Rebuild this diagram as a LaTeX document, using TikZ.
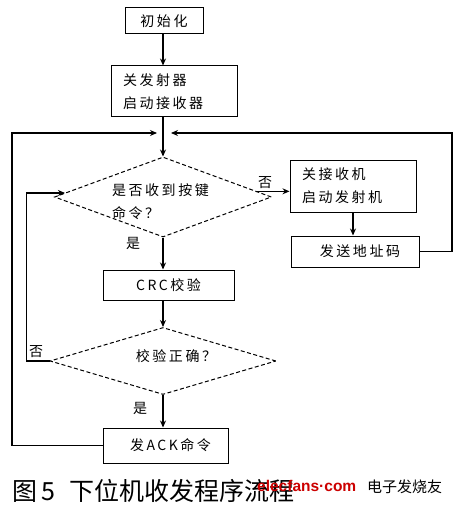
\documentclass[tikz,border=0pt]{standalone}
\usepackage{fontspec}
\setmainfont{Noto Sans CJK SC}[LetterSpace=18]
\newfontfamily\capfont{Noto Sans CJK SC}
\newfontfamily\wmfont{Liberation Sans}
\usetikzlibrary{shapes.geometric,arrows.meta,calc}
\tikzset{
  box/.style={draw,line width=1pt,rectangle,inner sep=0pt,font=\fontsize{14}{23}\selectfont},
  tbox/.style={box,align=left,inner xsep=12pt},
  dia/.style={draw,line width=1pt,diamond,dash pattern=on 4pt off 2.5pt,inner sep=0pt},
  txt/.style={inner sep=0pt,font=\fontsize{14}{23}\selectfont},
  conn/.style={line width=1.2pt},
  arr/.style={conn,-{Stealth[length=7pt,width=6pt]}}
}
\begin{document}
\begin{tikzpicture}[x=1pt,y=-1pt]
\useasboundingbox[fill=white] (0,0) rectangle (458,508);
% nodes
\node[box,minimum width=78pt,minimum height=26pt] (init) at (164,21) {初始化};
\node[tbox,text width=102pt,minimum height=51pt] (b1) at (174,91.5) {关发射器\\启动接收器};
\coordinate (jl) at (157,133);
\coordinate (jr) at (171,133);
\coordinate (lx) at (12,133);
\coordinate (rx) at (452,133);
\node[dia,minimum width=217pt,minimum height=80pt] (d1) at (163,197) {};
\node[txt,anchor=west,align=left] (d1t) at (112,201.5) {是否收到按键\\命令？};
\node[tbox,text width=102pt,minimum height=52pt] (b2) at (353,186) {关接收机\\启动发射机};
\node[box,minimum width=128pt,minimum height=31pt] (b3) at (355,251.5) {\hspace{10pt}发送地址码};
\node[box,minimum width=131pt,minimum height=30pt] (crc) at (168.5,285) {CRC校验\hspace{12pt}};
\node[dia,minimum width=226pt,minimum height=67pt] (d2) at (163,361) {};
\node[txt] (d2t) at (176,356) {校验正确？};
\node[box,minimum width=125pt,minimum height=35pt] (ack) at (165.5,445.5) {\hspace{10pt}发ACK命令};
% labels
\node[txt] (no1l) at (265,183) {否};
\node[txt] (yes1l) at (133,243) {是};
\node[txt] (no2l) at (36,352) {否};
\node[txt] (yes2l) at (140,408) {是};
% connectors
\draw[arr] (d1.north |- init.south) -- (d1.north |- b1.north);
\draw[arr] (d1.north |- b1.south) -- (d1.north);
\draw[arr] (ack.west) -| (lx) -- (jl);
\draw[arr] (b3.east) -| (rx) -- (jr);
\draw[arr] ($(d1.east)!0.14!(d1.north)$) coordinate (no1) -- (no1 -| b2.west);
\draw[arr] (b2.south) -- (b2.south |- b3.north);
\draw[arr] (d1.south) -- (d1.south |- crc.north);
\draw[arr] (d2.north |- crc.south) -- (d2.north);
\coordinate (in1) at ($(d1.west)!0.1!(d1.north)$);
\draw[arr] (d2.west) -- ++(-23,0) |- (in1);
\draw[arr] (d2.south) -- (d2.south |- ack.north);
% caption
\node[inner sep=0pt,anchor=west,font=\capfont\fontsize{25}{25}\selectfont] (cap) at (12,491) {图\hspace{4pt}5\hspace{14pt}下位机收发程序流程};
\node[inner sep=0pt,anchor=west,text=red!80!black,font=\wmfont\bfseries\fontsize{15.5}{15.5}\selectfont] (wm1) at (257,486) {elecfans{\textperiodcentered}com};
\node[inner sep=0pt,anchor=west,font=\capfont\fontsize{15}{15}\selectfont] (wm2) at (367,487) {电子发烧友};
\end{tikzpicture}
\end{document}
